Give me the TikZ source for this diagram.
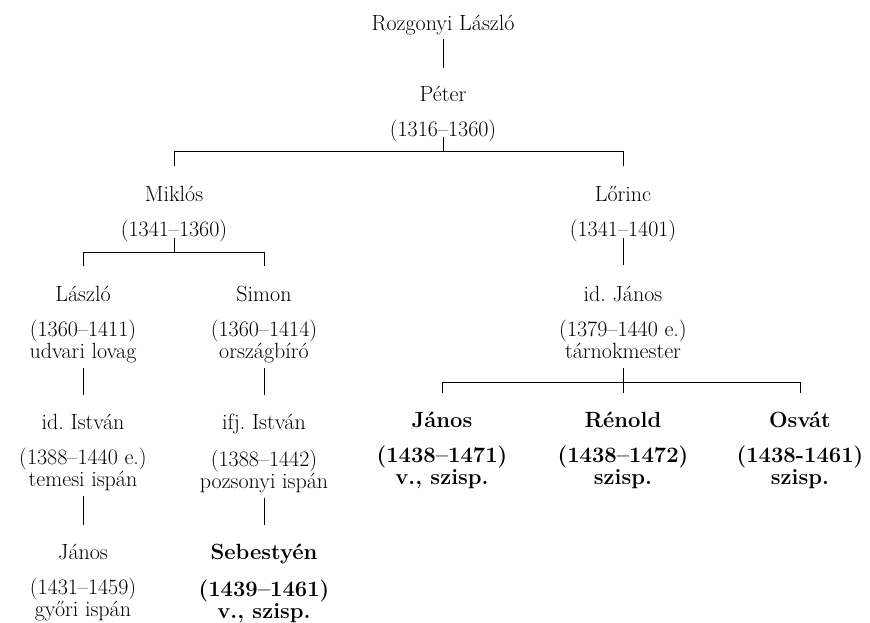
\documentclass[tikz,border=0pt]{standalone}
\usepackage{tikz}

\begin{document}
\begin{tikzpicture}[
        x=1pt, y=-1pt,
        line width=0.8pt,
        person/.style={
            anchor=north,
            align=center,
            inner sep=0pt,
            font=\fontsize{22}{20}\selectfont,
            execute at begin node=\rule{0pt}{16pt},
            execute at end node=\rule[-6pt]{0pt}{6pt}
            },
        heir/.style={
            person,
            font=\fontsize{22}{20}\selectfont\bfseries
            },
        stem/.style={
            shorten <=3pt,
            shorten >=19pt
            }
    ]
    \useasboundingbox (0,0) rectangle (870,623);

    \node[person] (rozgonyi) at (443,14) {Rozgonyi László};
    \node[person] (peter) at (443,86) {Péter\\[15pt](1316--1360)};

    \node[person] (miklos) at (174,186) {Miklós\\[15pt](1341--1360)};
    \node[person] (lorinc) at (623,186) {Lőrinc\\[15pt](1341--1401)};

    \node[person] (laszlo) at (83,286) {László\\[15pt](1360--1411)\\udvari lovag};
    \node[person] (simon) at (264,286) {Simon\\[15pt](1360--1414)\\országbíró};
    \node[person] (idjanos) at (623,286) {id.\ János\\[15pt](1379--1440 e.)\\tárnokmester};

    \node[person] (idistvan) at (83,414) {id.\ István\\[15pt](1388--1440 e.)\\temesi ispán};
    \node[person] (ifjistvan) at (264,414) {ifj.\ István\\[15pt](1388--1442)\\pozsonyi ispán};
    \node[heir] (ifjjanos) at (442,412) {János\\[15pt](1438--1471)\\v., szisp.};
    \node[heir] (renold) at (623,412) {Rénold\\[15pt](1438--1472)\\szisp.};
    \node[heir] (osvat) at (800,412) {Osvát\\[15pt](1438-1461)\\szisp.};

    \node[person] (janos) at (83,544) {János\\[15pt](1431--1459)\\győri ispán};
    \node[heir] (sebestyen) at (264,544) {Sebestyén\\[15pt](1439--1461)\\v., szisp.};

    \draw[shorten <=2pt, shorten >=18pt] (rozgonyi.south) -- (peter.north);

    \draw ([yshift=6pt]peter.south) -- ([yshift=-8pt]peter.south);
    \draw ([yshift=20pt]miklos.north) |- ([yshift=-8pt]peter.south) -| ([yshift=20pt]lorinc.north);

    \draw ([yshift=5pt]miklos.south) -- ([yshift=-9pt]miklos.south);
    \draw ([yshift=20pt]laszlo.north) |- ([yshift=-9pt]miklos.south) -| ([yshift=20pt]simon.north);

    \draw ([yshift=5pt]lorinc.south) -- ([yshift=21pt]idjanos.north);

    \draw[stem] (idjanos.south) -- (renold.north);
    \draw ([yshift=19pt]ifjjanos.north) |- ([yshift=-17pt]idjanos.south) -| ([yshift=19pt]osvat.north);

    \draw[stem] (laszlo.south) -- (idistvan.north);
    \draw[stem] (idistvan.south) -- (janos.north);
    \draw[stem] (simon.south) -- (ifjistvan.north);
    \draw[stem] (ifjistvan.south) -- (sebestyen.north);
\end{tikzpicture}
\end{document}
